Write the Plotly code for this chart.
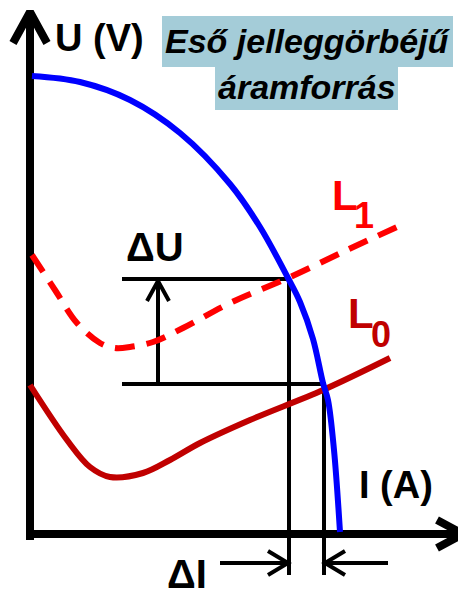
import plotly.graph_objects as go

# ==== Data (chart units: origin at the axis corner, ~1 unit per pixel) ====

# Power source characteristic (blue)
source_I = [2, 50, 100, 150, 200, 230, 258, 270, 283, 293, 298, 304, 310]
source_U = [458, 452, 434, 401, 350, 307, 256, 232, 195, 151, 134, 84, 2]

# Load line L1 (dashed, red)
l1_I = [2, 25, 47, 70, 85, 100, 123, 153, 200, 258, 317, 367]
l1_U = [279, 244, 211, 191, 186, 187, 192, 206, 231, 256, 284, 307]

# Load line L0 (solid, dark red)
l0_I = [0, 37, 60, 80, 113, 140, 170, 220, 293, 360]
l0_U = [149, 94, 67, 57, 61, 74, 91, 114, 144, 176]

# Operating points (upper = on L1, lower = on L0)
op_I = [259, 294]
op_U = [255, 150]
ref_I = 92          # left end of the horizontal helper lines
bottom_U = -41      # lower end of the vertical helper lines
dU_I = 128          # position of the delta U arrow
dI_U = -29          # height of the delta I arrows
dI_left_start = 190
dI_right_start = 358

axis_top = 522
axis_right = 433

FONT = "Liberation Sans, Arial, sans-serif"
BLUE_BOX = "#a4ccd8"

fig = go.Figure()


def seg(xs, ys, color="black", width=4):
    fig.add_trace(go.Scatter(x=xs, y=ys, mode="lines", hoverinfo="skip",
                             line=dict(color=color, width=width)))


# axes with arrows
seg([0, 0], [-6, axis_top], width=8)
seg([-17, 0, 17], [axis_top - 31, axis_top, axis_top - 31], width=8)
seg([-3, axis_right], [0, 0], width=8)
seg([axis_right - 26, axis_right, axis_right - 26], [14, 0, -14], width=8)

# helper lines
seg([ref_I, op_I[0], op_I[0]], [op_U[0], op_U[0], bottom_U])
seg([ref_I, op_I[1], op_I[1]], [op_U[1], op_U[1], bottom_U])

# delta U arrow
seg([dU_I, dU_I], [op_U[1], op_U[0] - 2])
seg([dU_I - 11, dU_I, dU_I + 11], [op_U[0] - 22, op_U[0] - 2, op_U[0] - 22])

# delta I arrows
seg([dI_left_start, op_I[0] - 1], [dI_U, dI_U])
seg([op_I[0] - 21, op_I[0] - 1, op_I[0] - 21], [dI_U + 12, dI_U, dI_U - 12])
seg([dI_right_start, op_I[1] + 1], [dI_U, dI_U])
seg([op_I[1] + 21, op_I[1] + 1, op_I[1] + 21], [dI_U + 12, dI_U, dI_U - 12])

# curves
fig.add_trace(go.Scatter(x=l0_I, y=l0_U, mode="lines", hoverinfo="skip",
                         line=dict(color="#c00000", width=6, shape="spline")))
fig.add_trace(go.Scatter(x=l1_I, y=l1_U, mode="lines", hoverinfo="skip",
                         line=dict(color="#ff0000", width=6, shape="spline",
                                   dash="20px,12px")))
fig.add_trace(go.Scatter(x=source_I, y=source_U, mode="lines", hoverinfo="skip",
                         line=dict(color="#0000ff", width=6, shape="spline")))

# title boxes
fig.add_shape(type="rect", x0=132, x1=423, y0=467, y1=518,
              fillcolor=BLUE_BOX, line_width=0, layer="below")
fig.add_shape(type="rect", x0=185, x1=368, y0=424, y1=467,
              fillcolor=BLUE_BOX, line_width=0, layer="below")


def txt(x, y, text, size=38, color="black", italic=False):
    fig.add_annotation(x=x, y=y, text=text, showarrow=False,
                       xanchor="center", yanchor="middle",
                       font=dict(family=FONT, size=size, color=color,
                                 weight="bold",
                                 style="italic" if italic else "normal"))


txt(278, 493, "Eső jelleggörbéjű", size=34, italic=True)
txt(277, 447, "áramforrás", size=34, italic=True)
txt(69, 496, "U (V)")
txt(366, 49, "I (A)")
txt(125, 287, "ΔU", size=40)
txt(157, -40, "ΔI", size=40)
txt(315, 339, "L", size=42, color="#ff0000")
txt(334, 319, "1", size=36, color="#ff0000")
txt(331, 221, "L", size=42, color="#c00000")
txt(351, 200, "0", size=36, color="#c00000")

# the page adds an 8px body margin, so the ranges are shifted by 8 units
fig.update_layout(
    width=466, height=592,
    margin=dict(l=0, r=0, t=0, b=0),
    showlegend=False,
    plot_bgcolor="white", paper_bgcolor="white",
    xaxis=dict(range=[-22, 444], visible=False, fixedrange=True),
    yaxis=dict(range=[-66, 526], visible=False, fixedrange=True),
)

fig.write_html("out.html")
